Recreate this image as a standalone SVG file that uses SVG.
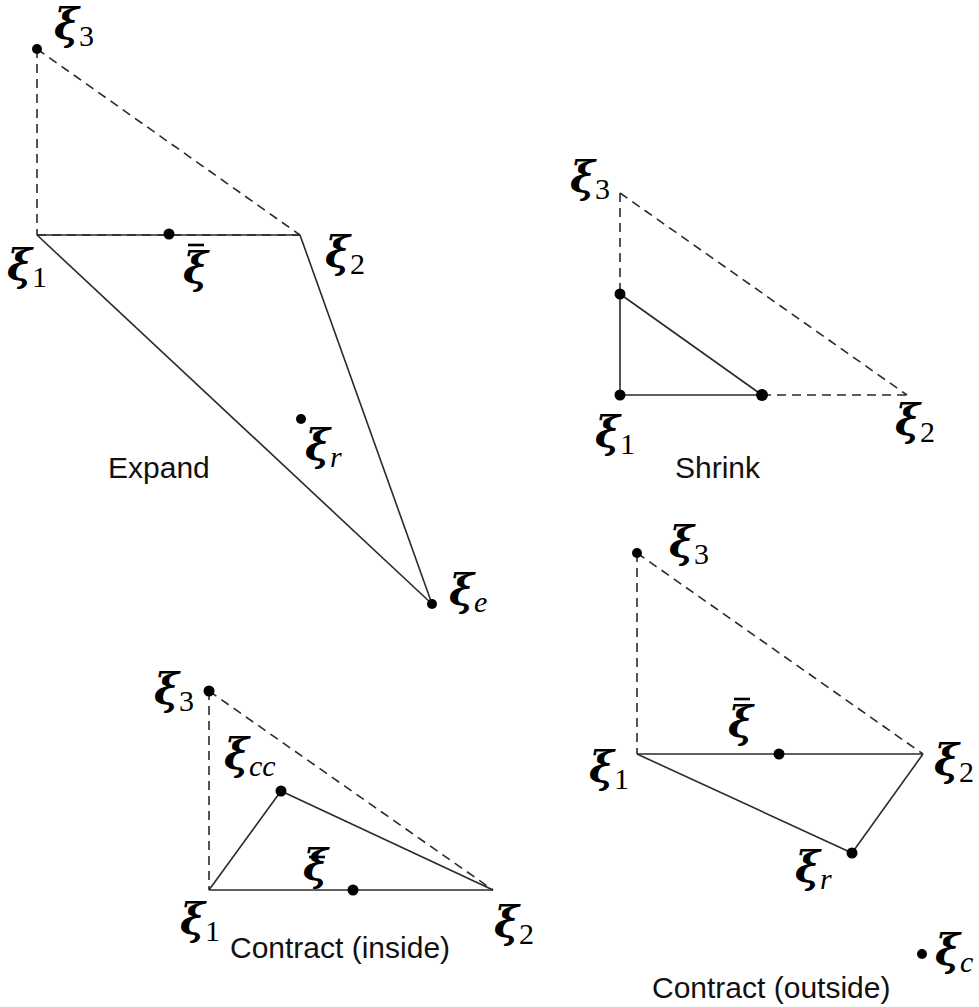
<svg xmlns="http://www.w3.org/2000/svg" width="979" height="1007" viewBox="0 0 979 1007">
<style>
.s{stroke:#2a2a2a;stroke-width:1.6;fill:none}
.d{stroke:#2a2a2a;stroke-width:1.6;fill:none;stroke-dasharray:9 6}
.dot{fill:#000}
.bar{stroke:#000;stroke-width:2.6}
.x{font-family:"DejaVu Serif",serif;font-weight:bold;font-style:italic;font-size:42px;fill:#000}
.sub{font-family:"Liberation Serif",serif;font-weight:normal;font-style:normal;font-size:30px}
.subi{font-family:"Liberation Serif",serif;font-weight:normal;font-style:italic;font-size:30px}
.cap{font-family:"Liberation Sans",Arial,sans-serif;font-size:30px;fill:#111}
</style>
<rect width="979" height="1007" fill="#fff"/>
<g id="connectors">
<!-- Expand -->
<line class="d" x1="37" y1="49" x2="37" y2="235"/>
<line class="d" x1="37" y1="49" x2="300" y2="235"/>
<line class="s" x1="37" y1="235" x2="300" y2="235" stroke="#666" stroke-width="2.4"/>
<line class="d" x1="37" y1="235" x2="300" y2="235"/>
<line class="s" x1="37" y1="235" x2="432" y2="604"/>
<line class="s" x1="300" y1="235" x2="432" y2="604"/>
<!-- Shrink -->
<line class="d" x1="620" y1="193" x2="620" y2="294"/>
<line class="d" x1="620" y1="193" x2="907" y2="395"/>
<line class="d" x1="762" y1="395" x2="907" y2="395"/>
<line class="s" x1="620" y1="294" x2="620" y2="395"/>
<line class="s" x1="620" y1="395" x2="762" y2="395"/>
<line class="s" x1="620" y1="294" x2="762" y2="395"/>
<!-- Contract inside -->
<line class="d" x1="209" y1="691" x2="209" y2="890"/>
<line class="d" x1="209" y1="691" x2="493" y2="890"/>
<line class="s" x1="209" y1="890" x2="493" y2="890"/>
<line class="s" x1="209" y1="890" x2="281" y2="791"/>
<line class="s" x1="281" y1="791" x2="493" y2="890"/>
<!-- Contract outside -->
<line class="d" x1="637" y1="553" x2="637" y2="754"/>
<line class="d" x1="637" y1="553" x2="923" y2="754"/>
<line class="s" x1="637" y1="754" x2="923" y2="754"/>
<line class="s" x1="637" y1="754" x2="852" y2="853"/>
<line class="s" x1="852" y1="853" x2="923" y2="754"/>
</g>
<g id="expand">
<circle class="dot" cx="37" cy="49" r="5"/>
<circle class="dot" cx="169" cy="234" r="5.5"/>
<circle class="dot" cx="301" cy="419" r="5"/>
<circle class="dot" cx="432" cy="604" r="5"/>
<text class="x" x="54" y="39">ξ<tspan class="sub" dy="7">3</tspan></text>
<text class="x" x="7" y="280">ξ<tspan class="sub" dy="7">1</tspan></text>
<text class="x" x="183" y="283">ξ</text>
<line class="bar" x1="188" y1="245" x2="204" y2="245"/>
<text class="x" x="325" y="267">ξ<tspan class="sub" dy="7">2</tspan></text>
<text class="x" x="305" y="460">ξ<tspan class="subi" dy="7">r</tspan></text>
<text class="x" x="449" y="605">ξ<tspan class="subi" dy="7">e</tspan></text>
<text class="cap" x="108" y="478">Expand</text>
</g>
<g id="shrink">
<circle class="dot" cx="620" cy="294" r="5.5"/>
<circle class="dot" cx="620" cy="395" r="5.5"/>
<circle class="dot" cx="762" cy="395" r="6"/>
<text class="x" x="570" y="192">ξ<tspan class="sub" dy="7">3</tspan></text>
<text class="x" x="595" y="447">ξ<tspan class="sub" dy="7">1</tspan></text>
<text class="x" x="895" y="435">ξ<tspan class="sub" dy="7">2</tspan></text>
<text class="cap" x="675" y="478">Shrink</text>
</g>
<g id="contract-inside">
<circle class="dot" cx="209" cy="691" r="5.5"/>
<circle class="dot" cx="281" cy="791" r="5.5"/>
<circle class="dot" cx="353" cy="890" r="5.5"/>
<text class="x" x="154" y="704">ξ<tspan class="sub" dy="7">3</tspan></text>
<text class="x" x="224" y="769">ξ<tspan class="subi" dy="7">cc</tspan></text>
<text class="x" x="303" y="880">ξ</text>
<line class="bar" x1="309" y1="857" x2="325" y2="857"/>
<text class="x" x="180" y="934">ξ<tspan class="sub" dy="7">1</tspan></text>
<text class="x" x="494" y="937">ξ<tspan class="sub" dy="7">2</tspan></text>
<text class="cap" x="230" y="958">Contract (inside)</text>
</g>
<g id="contract-outside">
<circle class="dot" cx="637" cy="553" r="5"/>
<circle class="dot" cx="779" cy="754" r="5.5"/>
<circle class="dot" cx="852" cy="853" r="5.5"/>
<circle class="dot" cx="922" cy="954" r="5"/>
<text class="x" x="669" y="557">ξ<tspan class="sub" dy="7">3</tspan></text>
<text class="x" x="728" y="737">ξ</text>
<line class="bar" x1="734" y1="699" x2="750" y2="699"/>
<text class="x" x="589" y="782">ξ<tspan class="sub" dy="7">1</tspan></text>
<text class="x" x="934" y="775">ξ<tspan class="sub" dy="7">2</tspan></text>
<text class="x" x="795" y="882">ξ<tspan class="subi" dy="7">r</tspan></text>
<text class="x" x="935" y="965">ξ<tspan class="subi" dy="7">c</tspan></text>
<text class="cap" x="652" y="998">Contract (outside)</text>
</g>
</svg>
